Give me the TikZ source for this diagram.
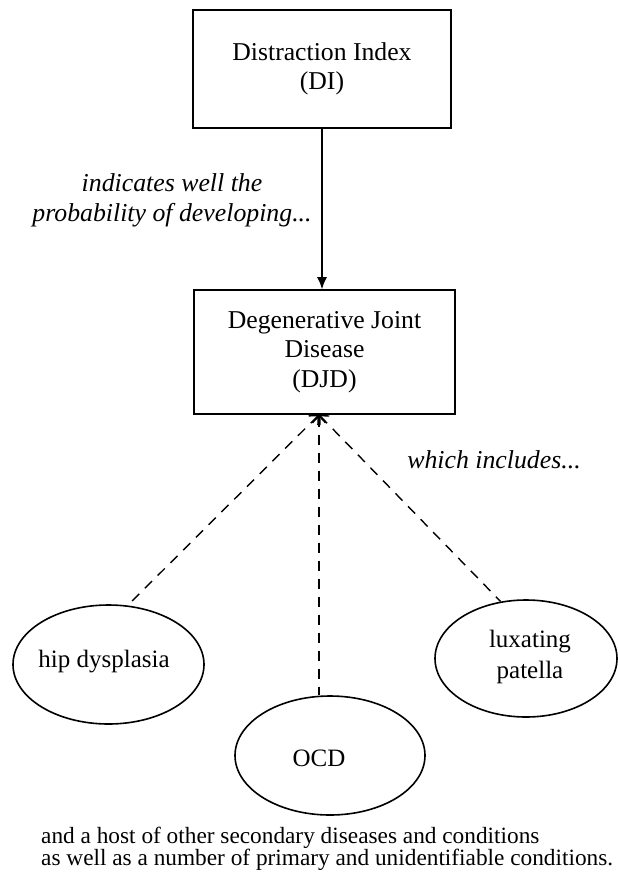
\documentclass[tikz,border=0pt]{standalone}
\usepackage{fontspec}
\setmainfont{Liberation Serif}
\usetikzlibrary{arrows.meta,shapes.geometric}
\begin{document}
\begin{tikzpicture}[x=1pt,y=-1pt,
  box/.style={draw, line width=1.6pt, rectangle, inner sep=0pt, align=center,
    font=\fontsize{25.7}{29.5}\selectfont},
  oval/.style={draw, ellipse, line width=1.6pt, inner sep=0pt},
  lbl/.style={align=center, inner sep=0pt, font=\fontsize{25}{31}\selectfont},
  note/.style={align=center, inner sep=0pt, font=\fontsize{25.8}{30}\selectfont\itshape},
  foottext/.style={align=left, inner sep=0pt, font=\fontsize{23.3}{22}\selectfont},
  dashlink/.style={line width=1.4pt, dash pattern=on 10pt off 8pt,
    {Straight Barb[length=7pt,width=13pt,line width=1.4pt]}-}
]
\useasboundingbox (0,0) rectangle (618,876);
\node[box, minimum width=258pt, minimum height=118pt] (di) at (322,69) {Distraction Index\\(DI)};
\node[box, minimum width=261pt, minimum height=124pt] (djd) at (324.5,352) {Degenerative Joint\\Disease\\(DJD)};
\draw[line width=1.4pt, -{Latex[length=12pt,width=10pt]}] (di.south) -- (di.south |- djd.north);
\node[note] (ind) at (172,200) {indicates well the\\probability of developing...};
\node[note] (wi) at (494,460) {which includes...};
\node[oval, minimum width=191pt, minimum height=119pt] (hip) at (108.5,664.5) {};
\node[lbl] (hipt) at (104,662) {hip dysplasia};
\node[oval, minimum width=190pt, minimum height=119pt] (ocd) at (330,755.5) {};
\node[lbl] (ocdt) at (319,758) {OCD};
\node[oval, minimum width=182pt, minimum height=117pt] (lux) at (526,658.5) {};
\node[lbl] (luxt) at (530,657) {luxating\\patella};
\coordinate (hub) at ([xshift=-5.5pt]djd.south);
\draw[dashlink] (hub) -- (hip.72);
\draw[dashlink] (hub) -- (hub |- ocd.north);
\draw[dashlink] (hub) -- (lux.114);
\node[foottext, anchor=base west] (foot) at (41,865) {and a host of other secondary diseases and conditions\\as well as a number of primary and unidentifiable conditions.};
\end{tikzpicture}
\end{document}
